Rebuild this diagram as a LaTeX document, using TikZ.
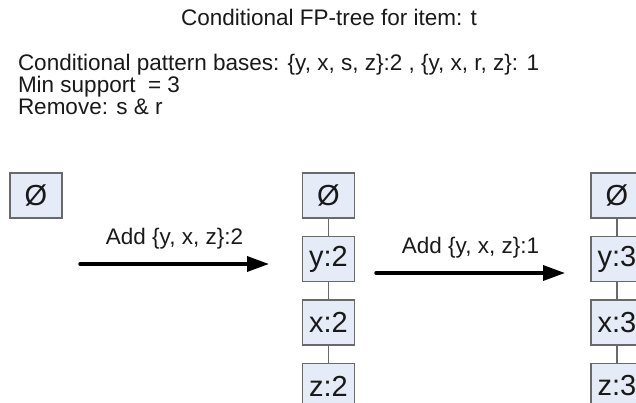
\documentclass[tikz,border=0pt]{standalone}
\usepackage{fontspec}
\setmainfont{Liberation Sans}
\usetikzlibrary{positioning,arrows.meta,calc}
\definecolor{boxfill}{RGB}{229,235,247}
\definecolor{boxline}{RGB}{105,105,105}
\definecolor{inktext}{RGB}{25,25,25}
\tikzstyle{line} = [draw, line width=3.5pt, line cap=round, -{Triangle[length=22pt,width=15pt]}]
\tikzstyle{link} = [draw, boxline, line width=1.5pt]
\tikzstyle{cell} = [draw=boxline, fill=boxfill, line width=1.5pt, minimum width=52pt, minimum height=45pt, inner sep=0pt, text=inktext, font=\fontsize{29}{29}\selectfont]
\tikzstyle{txt} = [inner sep=0pt, outer sep=0pt, text=inktext, font=\fontsize{22.5}{22}\selectfont]

\begin{document}
\begin{tikzpicture}[x=1pt, y=1pt, node distance = 17pt]
    \useasboundingbox (0,0) rectangle (636,402);
    \clip (0,0) rectangle (636,402);

    % heading and notes
    \node [txt, anchor=base] (title) at (329,376) {Conditional FP-tree for item: t};
    \node [txt, anchor=base west] (bases) at (18,331) {Conditional pattern bases: \{y, x, s, z\}:2 , \{y, x, r, z\}: 1};
    \node [txt, anchor=base west] (minsup) at (18,309) {Min support\ \ = 3};
    \node [txt, anchor=base west] (remove) at (18,287) {Remove: s \& r};

    % empty tree
    \node [cell] (root0) at (36,206.5) {Ø};

    % tree after first base
    \node [cell] (root1) at (328.5,206.5) {Ø};
    \node [cell, below=of root1] (y1) {y:2};
    \node [cell, below=of y1] (x1) {x:2};
    \node [cell, below=of x1] (z1) {z:2};

    % tree after second base
    \node [cell] (root2) at (617,206.5) {Ø};
    \node [cell, below=of root2] (y2) {y:3};
    \node [cell, below=of y2] (x2) {x:3};
    \node [cell, below=of x2] (z2) {z:3};

    \path [link] (root1) -- (y1);
    \path [link] (y1) -- (x1);
    \path [link] (x1) -- (z1);
    \path [link] (root2) -- (y2);
    \path [link] (y2) -- (x2);
    \path [link] (x2) -- (z2);

    % steps
    \coordinate (a1s) at (80,138);
    \coordinate (a1e) at (269,138);
    \coordinate (a2s) at (376,129);
    \coordinate (a2e) at (565,129);
    \path [line] (a1s) -- node [txt, above=15pt] (add1) {Add \{y, x, z\}:2} (a1e);
    \path [line] (a2s) -- node [txt, above=15pt] (add2) {Add \{y, x, z\}:1} (a2e);
\end{tikzpicture}
\end{document}
